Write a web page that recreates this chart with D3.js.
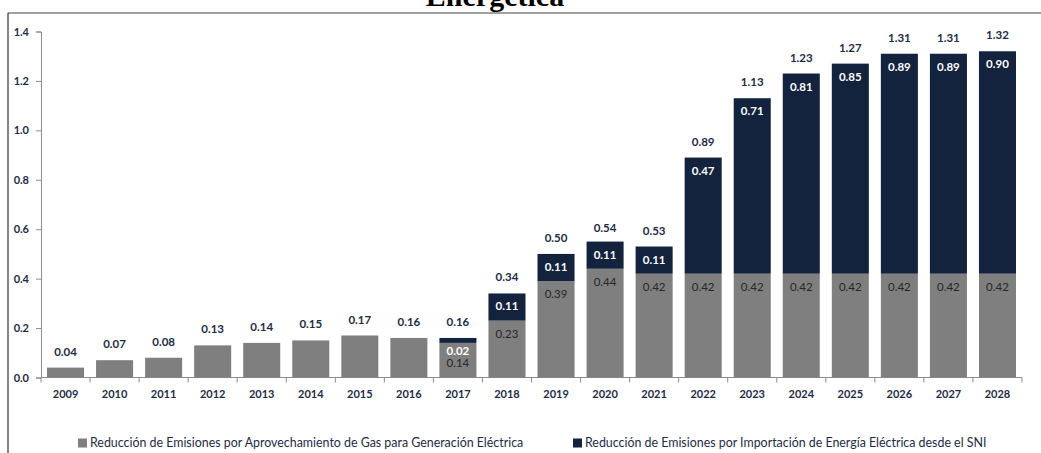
<!DOCTYPE html>
<html lang="es">
<head>
    <meta charset="UTF-8">
    <title>Reducción de Emisiones</title>
    <script src="https://d3js.org/d3.v7.min.js"></script>
    <style>
        body {
            margin: 0;
            background-color: #ffffff;
            font-family: Lato, "Open Sans", sans-serif;
        }
    </style>
</head>
<body>
    <div id="chart"></div>

    <script>
        // Data
        const years = ["2009", "2010", "2011", "2012", "2013", "2014", "2015", "2016", "2017", "2018",
                       "2019", "2020", "2021", "2022", "2023", "2024", "2025", "2026", "2027", "2028"];
        const gasValues = [0.04, 0.07, 0.08, 0.13, 0.14, 0.15, 0.17, 0.16, 0.14, 0.23,
                           0.39, 0.44, 0.42, 0.42, 0.42, 0.42, 0.42, 0.42, 0.42, 0.42];
        const importValues = [0, 0, 0, 0, 0, 0, 0, 0, 0.02, 0.11,
                              0.11, 0.11, 0.11, 0.47, 0.71, 0.81, 0.85, 0.89, 0.89, 0.90];
        const totalValues = [0.04, 0.07, 0.08, 0.13, 0.14, 0.15, 0.17, 0.16, 0.16, 0.34,
                             0.50, 0.54, 0.53, 0.89, 1.13, 1.23, 1.27, 1.31, 1.31, 1.32];
        const yTicks = [0, 0.2, 0.4, 0.6, 0.8, 1.0, 1.2, 1.4];
        const legendLabels = [
            "Reducción de Emisiones por Aprovechamiento de Gas para Generación Eléctrica",
            "Reducción de Emisiones por Importación de Energía Eléctrica desde el SNI"
        ];

        const width = 1041, height = 453;
        const gasColor = "#7f7f7f";
        const navyColor = "#13233e";
        const textColor = "#1e2b45";

        const svg = d3.select('#chart')
            .append('svg')
            .attr('width', width)
            .attr('height', height);

        // page frame: cut-off title, top rule and left border
        svg.append('text')
            .attr('x', 495)
            .attr('y', 6)
            .attr('text-anchor', 'middle')
            .attr('font-family', '"Liberation Serif", serif')
            .attr('font-weight', 'bold')
            .attr('font-size', 30)
            .attr('fill', '#000')
            .text('Energética');

        svg.append('line')
            .attr('x1', 8).attr('x2', width)
            .attr('y1', 13).attr('y2', 13)
            .attr('stroke', '#808080').attr('stroke-width', 1.5);
        svg.append('line')
            .attr('x1', 8).attr('x2', 8)
            .attr('y1', 13).attr('y2', height)
            .attr('stroke', '#333').attr('stroke-width', 1.2);

        const x = d3.scaleBand()
            .domain(years)
            .range([41, 1022])
            .paddingInner(0.245)
            .paddingOuter(0.1225);

        const y = d3.scaleLinear()
            .domain([0, 1.4])
            .range([377.5, 31.5]);

        // y axis
        const yAxis = svg.append('g')
            .attr('transform', 'translate(41,0)')
            .call(d3.axisLeft(y).tickValues(yTicks).tickFormat(d3.format('.1f')).tickSize(5).tickPadding(7));
        yAxis.select('.domain').attr('stroke', '#8c8c8c');
        yAxis.selectAll('.tick line').attr('stroke', '#8c8c8c');
        yAxis.selectAll('.tick text')
            .attr('font-family', 'Lato, sans-serif')
            .attr('font-size', 11)
            .attr('font-weight', 'bold')
            .attr('fill', textColor);

        // x axis line with ticks at category boundaries
        const step = x.step();
        const baseY = y(0);
        svg.append('line')
            .attr('x1', 41).attr('x2', 1022)
            .attr('y1', baseY).attr('y2', baseY)
            .attr('stroke', '#8c8c8c');
        svg.selectAll('.xtick')
            .data(d3.range(years.length + 1))
            .enter()
            .append('line')
            .attr('class', 'xtick')
            .attr('x1', i => 41 + i * step)
            .attr('x2', i => 41 + i * step)
            .attr('y1', baseY)
            .attr('y2', baseY + 5)
            .attr('stroke', '#8c8c8c');

        svg.selectAll('.xlabel')
            .data(years)
            .enter()
            .append('text')
            .attr('class', 'xlabel')
            .attr('x', d => x(d) + x.bandwidth() / 2)
            .attr('y', 398)
            .attr('text-anchor', 'middle')
            .attr('font-size', 11)
            .attr('font-weight', 'bold')
            .attr('fill', textColor)
            .text(d => d);

        // bars
        const rows = years.map((yr, i) => ({
            year: yr, gas: gasValues[i], imp: importValues[i], total: totalValues[i]
        }));

        svg.selectAll('.gas')
            .data(rows)
            .enter()
            .append('rect')
            .attr('class', 'gas')
            .attr('x', d => x(d.year))
            .attr('width', x.bandwidth())
            .attr('y', d => y(d.gas))
            .attr('height', d => y(0) - y(d.gas))
            .attr('fill', gasColor);

        svg.selectAll('.imp')
            .data(rows.filter(d => d.imp > 0))
            .enter()
            .append('rect')
            .attr('class', 'imp')
            .attr('x', d => x(d.year))
            .attr('width', x.bandwidth())
            .attr('y', d => y(d.gas + d.imp))
            .attr('height', d => y(d.gas) - y(d.gas + d.imp))
            .attr('fill', navyColor);

        // labels
        const impLabelY = d => y(d.gas + d.imp) + 13;
        const gasLabelY = d => Math.max(y(d.gas) + 13, impLabelY(d) + 12);

        svg.selectAll('.impLabel')
            .data(rows.filter(d => d.imp > 0))
            .enter()
            .append('text')
            .attr('class', 'impLabel')
            .attr('x', d => x(d.year) + x.bandwidth() / 2)
            .attr('y', impLabelY)
            .attr('dy', '0.35em')
            .attr('text-anchor', 'middle')
            .attr('font-size', 11.5)
            .attr('font-weight', 'bold')
            .attr('fill', '#ffffff')
            .text(d => d.imp.toFixed(2));

        svg.selectAll('.gasLabel')
            .data(rows.filter(d => d.imp > 0))
            .enter()
            .append('text')
            .attr('class', 'gasLabel')
            .attr('x', d => x(d.year) + x.bandwidth() / 2)
            .attr('y', gasLabelY)
            .attr('dy', '0.35em')
            .attr('text-anchor', 'middle')
            .attr('font-size', 11.5)
            .attr('fill', '#262626')
            .text(d => d.gas.toFixed(2));

        svg.selectAll('.totLabel')
            .data(rows)
            .enter()
            .append('text')
            .attr('class', 'totLabel')
            .attr('x', d => x(d.year) + x.bandwidth() / 2)
            .attr('y', d => y(d.total) - 16)
            .attr('dy', '0.35em')
            .attr('text-anchor', 'middle')
            .attr('font-size', 11.5)
            .attr('font-weight', 'bold')
            .attr('fill', textColor)
            .text(d => d.total.toFixed(2));

        // legend
        const legendX = [78, 573];
        const legendColors = [gasColor, navyColor];
        const legend = svg.selectAll('.legend')
            .data(legendLabels)
            .enter()
            .append('g')
            .attr('class', 'legend')
            .attr('transform', (d, i) => `translate(${legendX[i]},443)`);
        legend.append('rect')
            .attr('x', 0).attr('y', -4.5)
            .attr('width', 9).attr('height', 9)
            .attr('fill', (d, i) => legendColors[i]);
        legend.append('text')
            .attr('x', 12)
            .attr('y', 0)
            .attr('dy', '0.35em')
            .attr('font-size', 12.4)
            .attr('fill', textColor)
            .text(d => d);
    </script>
</body>
</html>
